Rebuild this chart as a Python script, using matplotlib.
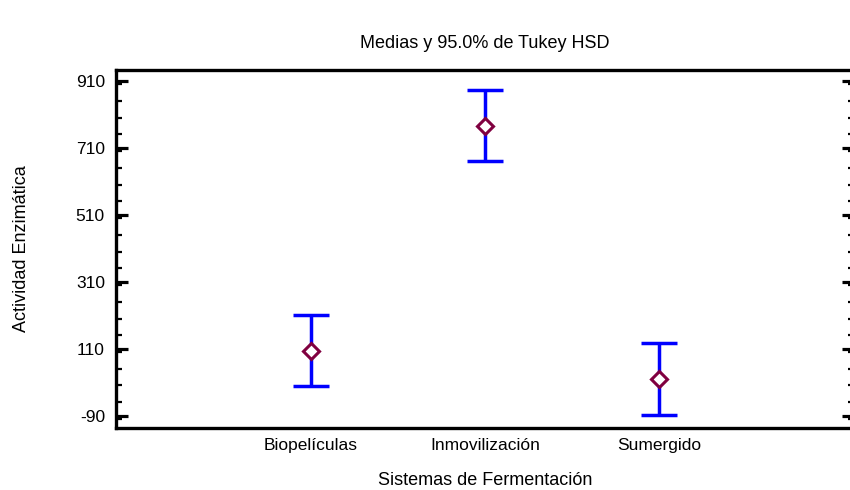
import matplotlib
matplotlib.use("Agg")
import matplotlib.pyplot as plt
from matplotlib.ticker import MultipleLocator, FixedLocator

plt.rcParams['font.family'] = ['Liberation Sans', 'DejaVu Sans']

sistemas = ["Biopelículas", "Inmovilización", "Sumergido"]
medias = [104, 776, 19]
inferior = [-2, 669, -88]
superior = [211, 883, 126]
yticks = [-90, 110, 310, 510, 710, 910]

fig = plt.figure(figsize=(8.5, 4.9), dpi=100)
ax = fig.add_axes([0.1365, 0.1265, 0.868, 0.7306])

x = list(range(len(sistemas)))
err_lo = [m - lo for m, lo in zip(medias, inferior)]
err_hi = [hi - m for m, hi in zip(medias, superior)]
ax.errorbar(x, medias, yerr=[err_lo, err_hi], fmt='none', ecolor='#0000ff',
            elinewidth=2.5, capsize=13, capthick=2.5, zorder=2)
ax.plot(x, medias, linestyle='none', marker='D', markersize=8,
        markerfacecolor='white', markeredgecolor='#800040', markeredgewidth=2.2,
        zorder=3)

ax.set_xlim(-1.12, 3.12)
ax.set_ylim(-127, 942)
ax.set_xticks(x)
ax.set_xticklabels(sistemas, fontsize=12.5)
ax.yaxis.set_major_locator(FixedLocator(yticks))
ax.yaxis.set_minor_locator(MultipleLocator(50))
ax.set_yticklabels([str(v) for v in yticks], fontsize=12.5)

ax.tick_params(axis='x', length=0, pad=7)
ax.tick_params(axis='y', which='major', direction='in', length=8.5, width=2.3,
               left=True, right=True, pad=8)
ax.tick_params(axis='y', which='minor', direction='in', length=4.3, width=1.6,
               left=True, right=True)

for s in ax.spines.values():
    s.set_linewidth(2.4)
ax.spines['right'].set_visible(False)

ax.set_title("Medias y 95.0% de Tukey HSD", fontsize=13, pad=16)
ax.set_xlabel("Sistemas de Fermentación", fontsize=13, labelpad=14)
ax.set_ylabel("Actividad Enzimática", fontsize=13, labelpad=33)

fig.savefig("out.png", dpi=100)
